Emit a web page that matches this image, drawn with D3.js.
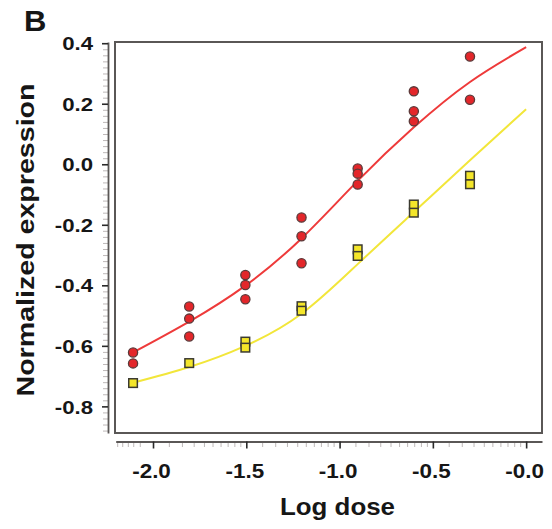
<!DOCTYPE html>
<html>
<head>
<meta charset="utf-8">
<script src="https://cdn.jsdelivr.net/npm/d3@7"></script>
<style>
  body { margin: 0; background: #fff; }
  svg { display: block; }
  text { font-family: "Liberation Sans", Arial, Helvetica, sans-serif; font-weight: bold; fill: #161616; }
</style>
</head>
<body>
<svg id="chart" width="552" height="529"></svg>
<script>
// Twofold dilution series (log10 of dose) and replicate measurements
const logDose = [-2.107, -1.806, -1.505, -1.204, -0.903, -0.602, -0.301];
const redReplicates = [
  [-0.622, -0.658],
  [-0.470, -0.510, -0.569],
  [-0.366, -0.399, -0.446],
  [-0.176, -0.238, -0.327],
  [-0.014, -0.031, -0.067],
  [0.241, 0.175, 0.142],
  [0.356, 0.213]
];
const yellowReplicates = [
  [-0.723],
  [-0.657],
  [-0.586, -0.606],
  [-0.469, -0.484],
  [-0.281, -0.303],
  [-0.133, -0.160],
  [-0.038, -0.066]
];

// Fitted dose-response curves, sampled along the dose axis
const fitDose = [-2.107, -1.806, -1.505, -1.204, -0.903, -0.602, -0.301, 0.0];
const redFit = [-0.622, -0.520, -0.401, -0.245, -0.055, 0.122, 0.272, 0.387];
const yellowFit = [-0.722, -0.670, -0.600, -0.494, -0.330, -0.158, 0.013, 0.182];

// Axis ticks
const xTickValues = [-2.0, -1.5, -1.0, -0.5, 0.0];
const xTickLabels = ["-2.0", "-1.5", "-1.0", "-0.5", "-0.0"];
const yTickValues = [0.4, 0.2, 0.0, -0.2, -0.4, -0.6, -0.8];
const yTickLabels = ["0.4", "0.2", "0.0", "-0.2", "-0.4", "-0.6", "-0.8"];
const xMinorLead = [-2.192, -2.165, -2.135, -2.106, -2.071];
const xMinorSteps = [0.085, 0.155, 0.218, 0.273, 0.319, 0.362, 0.400, 0.436, 0.468];

const svg = d3.select("#chart");

const plot = { left: 115, right: 542, top: 42, bottom: 433 };
const yAxisX = 108;
const xAxisY = 441.5;

const x = d3.scaleLinear().domain([-2.2, 0.085]).range([115.7, 542]);
const y = d3.scaleLinear().domain([-0.888, 0.404]).range([plot.bottom, plot.top]);

// widen glyphs of a text selection horizontally
function widen(sel, k) {
  sel.each(function () {
    const w = this.getComputedTextLength();
    d3.select(this).attr("textLength", w * k).attr("lengthAdjust", "spacingAndGlyphs");
  });
}

// Panel letter
svg.append("text")
  .attr("x", 24).attr("y", 31)
  .style("font-size", "29.5px")
  .text("B")
  .call(widen, 1.05);

// Frame
svg.append("rect")
  .attr("x", plot.left).attr("y", plot.top)
  .attr("width", plot.right - plot.left).attr("height", plot.bottom - plot.top)
  .attr("fill", "none").attr("stroke", "#5a5756").attr("stroke-width", 2);

// ---- Y axis ----
const yMinor = d3.range(-88, 41, 2).map(v => v / 100).filter(v => Math.round(v * 100) % 20 !== 0);
const yMinorAxis = svg.append("g").attr("transform", `translate(${yAxisX},0)`)
  .call(d3.axisLeft(y).tickValues(yMinor).tickSize(5).tickSizeOuter(0).tickFormat(""));
yMinorAxis.select(".domain").remove();
yMinorAxis.selectAll(".tick line").attr("stroke", "#bdb8b8").attr("stroke-width", 1);

const yAxis = svg.append("g").attr("transform", `translate(${yAxisX},0)`)
  .call(d3.axisLeft(y).tickValues(yTickValues).tickSize(6).tickSizeOuter(0)
    .tickFormat((d, i) => yTickLabels[i]).tickPadding(9));
yAxis.select(".domain").attr("stroke", "#5a5756").attr("stroke-width", 1.8);
yAxis.selectAll(".tick line").attr("stroke", "#2a2a2a").attr("stroke-width", 1.6);
yAxis.selectAll(".tick text")
  .attr("font-family", null).attr("font-size", null)
  .style("font-size", "18.5px").attr("fill", "#161616").attr("dy", "0.36em");
widen(yAxis.selectAll(".tick text"), 1.2);

// ---- X axis ----
const xMinor = xMinorLead.concat(
  d3.merge(xTickValues.slice(0, -1).map(t => xMinorSteps.map(s => +(t + s).toFixed(3))))
);
const xMinorAxis = svg.append("g").attr("transform", `translate(0,${xAxisY})`)
  .call(d3.axisBottom(x).tickValues(xMinor).tickSize(5.5).tickSizeOuter(0).tickFormat(""));
xMinorAxis.select(".domain").remove();
xMinorAxis.selectAll(".tick line").attr("stroke", "#bdb8b8").attr("stroke-width", 1);

const xAxis = svg.append("g").attr("transform", `translate(0,${xAxisY})`)
  .call(d3.axisBottom(x).tickValues(xTickValues).tickSize(7).tickSizeOuter(0)
    .tickFormat((d, i) => xTickLabels[i]));
xAxis.select(".domain").attr("stroke", "#5a5756").attr("stroke-width", 1.8);
xAxis.selectAll(".tick line").attr("stroke", "#2a2a2a").attr("stroke-width", 1.6);
xAxis.selectAll(".tick text")
  .attr("font-family", null).attr("font-size", null)
  .style("font-size", "19.5px").attr("fill", "#161616")
  .attr("y", 36.5).attr("dy", null).attr("x", -2);
widen(xAxis.selectAll(".tick text"), 1.15);

// Axis titles
svg.append("text")
  .attr("x", 337.5).attr("y", 515)
  .attr("text-anchor", "middle")
  .style("font-size", "23px")
  .attr("textLength", 115).attr("lengthAdjust", "spacingAndGlyphs")
  .text("Log dose");

svg.append("text")
  .attr("transform", "translate(34,240) rotate(-90)")
  .attr("text-anchor", "middle")
  .style("font-size", "23px")
  .attr("textLength", 313).attr("lengthAdjust", "spacingAndGlyphs")
  .text("Normalized expression");

// ---- Fitted curves ----
const line = d3.line()
  .x((d, i) => x(fitDose[i]))
  .y(d => y(d))
  .curve(d3.curveNatural);

svg.append("path").datum(redFit)
  .attr("d", line).attr("fill", "none")
  .attr("stroke", "#ee3a3a").attr("stroke-width", 2);
svg.append("path").datum(yellowFit)
  .attr("d", line).attr("fill", "none")
  .attr("stroke", "#f2e63a").attr("stroke-width", 2);

// ---- Replicate points ----
const flatten = reps => d3.merge(reps.map((vals, i) => vals.map(v => ({ dose: logDose[i], value: v }))));

const sq = 8.6;
svg.append("g").selectAll("rect")
  .data(flatten(yellowReplicates))
  .join("rect")
  .attr("x", d => x(d.dose) - sq / 2)
  .attr("y", d => y(d.value) - sq / 2)
  .attr("width", sq).attr("height", sq)
  .attr("fill", "#f4e62a").attr("stroke", "#3b3a30").attr("stroke-width", 1.5);

svg.append("g").selectAll("circle")
  .data(flatten(redReplicates))
  .join("circle")
  .attr("cx", d => x(d.dose))
  .attr("cy", d => y(d.value))
  .attr("r", 4.6)
  .attr("fill", "#e3262a").attr("stroke", "#5b3a3a").attr("stroke-width", 1.3);
</script>
</body>
</html>
